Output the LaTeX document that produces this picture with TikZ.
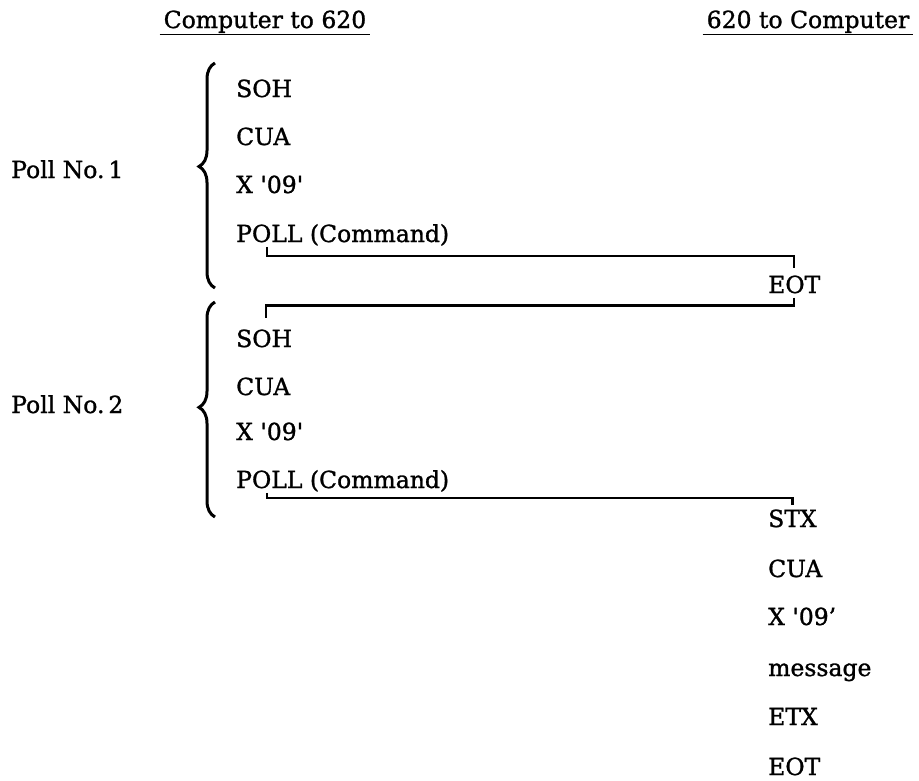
\documentclass[tikz,border=0pt]{standalone}
\usepackage{fontspec}
\setmainfont[FakeBold=1.2]{DejaVu Serif}
\usetikzlibrary{decorations.pathreplacing}
\begin{document}
\begin{tikzpicture}[
	  x=1pt, y=-1pt,
	  head/.style={font=\fontsize{23.5}{28}\selectfont, anchor=base, inner xsep=4pt, inner ysep=1.5pt},
	  item/.style={font=\fontsize{23.5}{28}\selectfont, anchor=base west, inner sep=1pt},
	  poll/.style={item},
	  rule/.style={line width=1.8pt},
	  link/.style={line width=2.4pt},
	  curly/.style={decorate, decoration={brace, amplitude=16pt, aspect=#1}, line width=3pt}]
	  \useasboundingbox (0,0) rectangle (919,780);
	  % column heads
	  \node[head] (hleft) at (265,28) {Computer to 620};
	  \node[head] (hright) at (808,28) {620 to Computer};
	  \draw[rule] (hleft.south west) -- (hleft.south east);
	  \draw[rule] (hright.south west) -- (hright.south east);
	  % first poll
	  \node[poll] (pollno1) at (10,178) {Poll No.\,1};
	  \draw[curly=0.54] (215,288) -- (215,63);
	  \node[item] (sohA) at (235,97) {SOH};
	  \node[item] (cuaA) at (235,145) {CUA};
	  \node[item] (xA) at (235,193) {X \textquotesingle09\textquotesingle};
	  \node[item] (pollA) at (235,242) {POLL (Command)};
	  \node[item] (eotA) at (767,293) {EOT};
	  % second poll
	  \node[poll] (pollno2) at (10,413) {Poll No.\,2};
	  \draw[curly=0.51] (215,517) -- (215,302);
	  \node[item] (sohB) at (235,347) {SOH};
	  \node[item] (cuaB) at (235,395) {CUA};
	  \node[item] (xB) at (235,440) {X \textquotesingle09\textquotesingle};
	  \node[item] (pollB) at (235,488) {POLL (Command)};
	  % reply
	  \node[item] (stx) at (767,527) {STX};
	  \node[item] (cuaC) at (767,577) {CUA};
	  \node[item] (xC) at (767,625) {X \textquotesingle09'};
	  \node[item] (msg) at (767,676) {message};
	  \node[item] (etx) at (767,725) {ETX};
	  \node[item] (eotB) at (767,775) {EOT};
	  % hand-overs
	  \draw[link] ([xshift=32pt]pollA.south west) -- ++(0,9) -| ([yshift=6pt]eotA.north);
	  \draw[link] ([yshift=-3pt]eotA.south) -- ++(0,8) -| ([xshift=31pt,yshift=10pt]sohB.north west);
	  \draw[link] ([xshift=32pt]pollB.south west) -- ++(0,5) -| ([yshift=3pt]stx.north);
	\end{tikzpicture}
\end{document}
